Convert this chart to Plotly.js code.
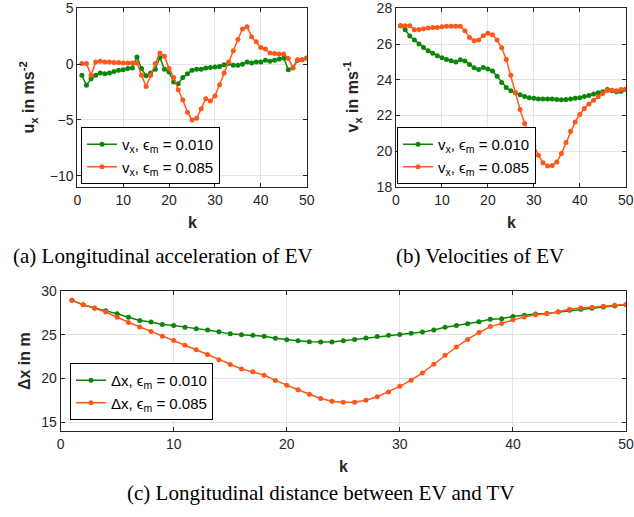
<!DOCTYPE html>
<html>
<head>
<meta charset="utf-8">
<script src="https://cdn.plot.ly/plotly-3.0.1.min.js"></script>
<style>html,body{margin:0;padding:0;background:#fff;}#chart{width:634px;height:517px;}</style>
</head>
<body>
<div id="chart"></div>
<script>
// ---------- data ----------
const k = [];
for (let i = 1; i <= 50; i++) k.push(i);

const uxLow = [-1.0,-1.9,-1.3,-1.0,-0.8,-0.85,-0.8,-0.65,-0.55,-0.5,
  -0.4,-0.35,0.65,-0.4,-1.05,-0.8,-0.45,0.6,-0.45,-0.7,
  -1.6,-1.75,-1.2,-0.85,-0.55,-0.45,-0.45,-0.35,-0.3,-0.25,
  -0.2,-0.05,0.05,-0.1,-0.1,0.0,0.2,0.1,0.2,0.2,
  0.35,0.25,0.35,0.45,0.55,-0.5,-0.35,0.35,0.4,0.55];
const uxHigh = [0.05,0.05,-1.0,0.2,0.25,0.2,0.2,0.15,0.15,0.1,
  0.1,0.1,0.1,-1.0,-2.0,-1.0,0.05,1.0,0.7,-0.4,
  -1.2,-2.3,-3.2,-4.3,-5.0,-4.85,-4.0,-3.1,-3.3,-2.85,
  -1.85,-0.8,0.2,1.2,2.2,3.15,3.35,2.45,2.0,1.5,
  1.35,1.0,0.95,0.9,0.9,0.5,-0.3,0.4,0.4,0.5];

const vxLow = [27.03,26.8,26.45,26.22,26.0,25.81,25.63,25.48,25.35,25.23,
  25.14,25.07,24.99,25.12,25.05,24.86,24.67,24.58,24.69,24.6,
  24.49,24.2,23.85,23.57,23.38,23.27,23.16,23.07,23.0,22.97,
  22.93,22.92,22.92,22.92,22.9,22.88,22.9,22.93,22.97,23.0,
  23.07,23.12,23.2,23.27,23.33,23.46,23.38,23.33,23.36,23.46];
const vxHigh = [27.03,27.03,27.03,26.8,26.82,26.86,26.9,26.92,26.93,26.97,
  26.99,27.0,27.0,27.0,26.75,26.37,26.19,26.22,26.47,26.6,
  26.52,26.22,25.79,25.14,24.26,23.27,22.34,21.55,20.9,20.3,
  19.78,19.36,19.18,19.2,19.4,19.87,20.49,21.12,21.64,22.06,
  22.39,22.65,22.86,23.05,23.23,23.4,23.42,23.38,23.46,23.48];

const dxLow = [28.93,28.42,28.07,27.75,27.4,27.0,26.64,26.45,26.17,26.05,
  25.85,25.7,25.54,25.34,25.1,24.99,24.95,24.83,24.6,24.43,
  24.31,24.2,24.16,24.16,24.31,24.47,24.63,24.79,24.95,25.03,
  25.18,25.3,25.54,25.85,26.05,26.25,26.49,26.76,26.84,27.08,
  27.24,27.36,27.43,27.59,27.79,27.91,28.03,28.18,28.3,28.42];
const dxHigh = [28.93,28.42,28.03,27.6,27.0,26.41,25.89,25.38,24.83,24.35,
  23.8,23.29,22.74,22.14,21.59,21.08,20.76,20.37,19.78,19.22,
  18.71,18.2,17.72,17.41,17.29,17.29,17.52,17.92,18.47,19.1,
  19.81,20.64,21.63,22.66,23.6,24.47,25.26,25.93,26.29,26.72,
  27.04,27.28,27.39,27.63,27.91,28.07,28.14,28.26,28.38,28.46];

const namesA = ['v<sub>x</sub>, ϵ<sub>m</sub> = 0.010', 'v<sub>x</sub>, ϵ<sub>m</sub> = 0.085'];
const namesC = ['Δx, ϵ<sub>m</sub> = 0.010', 'Δx, ϵ<sub>m</sub> = 0.085'];
const xTicks = [0, 10, 20, 30, 40, 50];
const yTicksA = [-10, -5, 0, 5];
const yTicksB = [18, 20, 22, 24, 26, 28];
const yTicksC = [15, 20, 25, 30];

// ---------- styling ----------
const W = 634, H = 517;
const px = x => x / W;
const py = y => 1 - y / H;
const GREEN = '#0a870a';
const ORANGE = '#ff5719';
const AX = '#262626';
const FONT = 'Liberation Sans, Arial, sans-serif';
const SERIF = 'Liberation Serif, Times New Roman, serif';

function tr(x, y, name, color, xa, ya, leg) {
  return {x: x, y: y, name: name, type: 'scatter', mode: 'lines+markers',
    line: {color: color, width: 1.5}, marker: {color: color, size: 5},
    xaxis: xa, yaxis: ya, legend: leg};
}

const data = [
  tr(k, uxLow, namesA[0], GREEN, 'x', 'y', 'legend'),
  tr(k, uxHigh, namesA[1], ORANGE, 'x', 'y', 'legend'),
  tr(k, vxLow, namesA[0], GREEN, 'x2', 'y2', 'legend2'),
  tr(k, vxHigh, namesA[1], ORANGE, 'x2', 'y2', 'legend2'),
  tr(k, dxLow, namesC[0], GREEN, 'x3', 'y3', 'legend3'),
  tr(k, dxHigh, namesC[1], ORANGE, 'x3', 'y3', 'legend3')
];

function axis(domain, range, tickvals, anchor) {
  return {domain: domain, range: range, tickvals: tickvals, anchor: anchor,
    showline: true, linecolor: AX, linewidth: 1, mirror: 'ticks',
    ticks: 'inside', ticklen: 4, tickcolor: AX,
    showgrid: true, gridcolor: '#e3e3e3', gridwidth: 1, zeroline: false,
    tickfont: {family: FONT, size: 14, color: AX}, fixedrange: true};
}

function leg(x, y) {
  return {x: x, y: y, xanchor: 'left', yanchor: 'top', bgcolor: '#ffffff',
    bordercolor: '#000000', borderwidth: 1, itemwidth: 30,
    font: {family: FONT, size: 15, color: '#000'}, tracegroupgap: 0};
}

function ann(x, y, text, size, opts) {
  return Object.assign({xref: 'paper', yref: 'paper', x: px(x), y: py(y),
    text: text, showarrow: false, xanchor: 'center', yanchor: 'middle',
    font: {family: FONT, size: size, color: AX}}, opts || {});
}

const layout = {
  width: W, height: H, autosize: false,
  margin: {l: 0, r: 0, t: 0, b: 0},
  paper_bgcolor: '#fff', plot_bgcolor: '#fff',
  xaxis: axis([px(77.3), px(306.7)], [0, 50], xTicks, 'y'),
  yaxis: axis([py(187), py(8.3)], [-11, 5], yTicksA, 'x'),
  xaxis2: axis([px(396), px(625.7)], [0, 50], xTicks, 'y2'),
  yaxis2: axis([py(187), py(8.3)], [18, 28], yTicksB, 'x2'),
  xaxis3: axis([px(60.6), px(626)], [0, 50], xTicks, 'y3'),
  yaxis3: axis([py(431), py(291)], [14, 30], yTicksC, 'x3'),
  legend: leg(px(81), py(127)),
  legend2: leg(px(397), py(127)),
  legend3: leg(px(70), py(363)),
  annotations: [
    ann(28, 97.5, '<b>u<sub>x</sub> in ms<sup>-2</sup></b>', 16, {textangle: -90}),
    ann(352, 97.5, '<b>v<sub>x</sub> in ms<sup>-1</sup></b>', 16, {textangle: -90}),
    ann(24, 361, '<b>Δx in m</b>', 16, {textangle: -90}),
    ann(192, 222, '<b>k</b>', 16),
    ann(511, 222, '<b>k</b>', 16),
    ann(343, 466, '<b>k</b>', 16),
    ann(163, 256, '(a) Longitudinal acceleration of EV', 21,
      {font: {family: SERIF, size: 21, color: '#000'}}),
    ann(480, 256, '(b) Velocities of EV', 21,
      {font: {family: SERIF, size: 21, color: '#000'}}),
    ann(321, 493, '(c) Longitudinal distance between EV and TV', 21,
      {font: {family: SERIF, size: 21, color: '#000'}})
  ]
};

Plotly.newPlot('chart', data, layout, {displayModeBar: false, staticPlot: true});
</script>
</body>
</html>
